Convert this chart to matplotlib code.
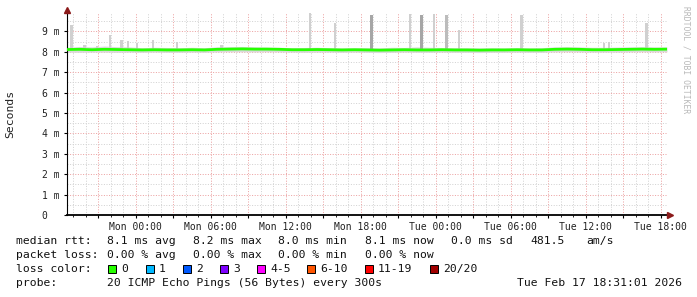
import matplotlib

matplotlib.use("Agg")
import matplotlib.dates as mdates  # noqa: E402
import matplotlib.pyplot as plt  # noqa: E402
import matplotlib.ticker as mticker  # noqa: E402
import pandas as pd  # noqa: E402
from matplotlib.patches import Rectangle  # noqa: E402

W, H = 697, 297
START = pd.Timestamp("2026-02-15 18:31:01")

# hourly median rtt (ms), hour 0 .. 48
median_ms = [
    8.11, 8.12, 8.10, 8.12, 8.11, 8.10,
    8.09, 8.10, 8.09, 8.09, 8.10, 8.09,
    8.12, 8.13, 8.14, 8.13, 8.13, 8.12,
    8.10, 8.10, 8.11, 8.10, 8.09, 8.10,
    8.09, 8.08, 8.09, 8.10, 8.09, 8.09, 8.10, 8.09,
    8.09, 8.08, 8.09, 8.09, 8.10, 8.09, 8.09,
    8.12, 8.13, 8.12,
    8.10, 8.10, 8.11,
    8.12, 8.13, 8.12, 8.13,
]
smoke_lo_ms = [
    7.98, 7.97, 7.98, 7.98, 7.97, 7.98,
    7.97, 7.98, 7.97, 7.97, 7.98, 7.97,
    7.99, 8.00, 8.00, 7.99, 8.00, 7.99,
    7.98, 7.97, 7.98, 7.98, 7.97, 7.98,
    7.97, 7.96, 7.97, 7.98, 7.97, 7.97, 7.98, 7.97,
    7.97, 7.96, 7.97, 7.97, 7.98, 7.97, 7.97,
    7.99, 8.00, 7.99,
    7.98, 7.98, 7.98,
    7.99, 8.00, 7.99, 8.00,
]
smoke_hi_ms = [
    8.22, 8.26, 8.24, 8.28, 8.25, 8.24,
    8.20, 8.22, 8.21, 8.20, 8.22, 8.20,
    8.24, 8.25, 8.26, 8.24, 8.23, 8.22,
    8.20, 8.21, 8.22, 8.20, 8.19, 8.20,
    8.20, 8.19, 8.22, 8.21, 8.24, 8.22, 8.21, 8.20,
    8.20, 8.19, 8.20, 8.19, 8.20, 8.19, 8.20,
    8.24, 8.25, 8.24,
    8.22, 8.22, 8.23,
    8.24, 8.25, 8.24, 8.23,
]

# isolated slow pings above the smoke
spike_hours = [0.38, 1.4, 2.4, 3.44, 4.38, 4.88, 5.6, 6.88, 8.8, 12.38, 19.44,
               21.44, 24.38, 27.44, 28.38, 29.36, 30.38, 31.36, 36.38, 42.96,
               43.36, 46.38]
spike_top_ms = [9.3, 8.35, 8.3, 8.8, 8.6, 8.55, 8.45, 8.6, 8.5, 8.35, 9.9,
                9.4, 9.8, 9.85, 9.8, 9.85, 9.8, 9.05, 9.8, 8.45,
                8.5, 9.4]
spike_pings = [1, 1, 1, 1, 1, 1, 1, 1, 1, 1, 1,
               1, 3, 1, 3, 1, 2, 1, 1, 1,
               1, 1]

rtt_stats = [8.1, 8.2, 8.0, 8.1]
rtt_sd = 0.0
rtt_amps = 481.5
loss_stats = [0.00, 0.00, 0.00, 0.00]
stat_names = ["avg", "max", "min", "now"]
loss_labels = ["0", "1", "2", "3", "4-5", "6-10", "11-19", "20/20"]
loss_colors = ["#26ff00", "#00b8ff", "#0059ff", "#7e00ff", "#ff00ff",
               "#ff5500", "#ff0000", "#a10000"]
probe_text = "20 ICMP Echo Pings (56 Bytes) every 300s"
stamp_text = "Tue Feb 17 18:31:01 2026"

MONO = "DejaVu Sans Mono"
plt.rcParams["font.family"] = MONO


def fpx(x, y):
    return x / W, 1 - y / H


hours = pd.date_range(START, periods=len(median_ms), freq="h")
spike_times = [START + pd.Timedelta(hours=h) for h in spike_hours]
shade = {1: "#d0d0d0", 2: "#bcbcbc", 3: "#a6a6a6"}

fig = plt.figure(figsize=(W / 100, H / 100), dpi=100, facecolor="white")
ax = fig.add_axes([67 / W, 82 / H, 600 / W, 202 / H])
ax.set_facecolor("white")

ax.fill_between(hours, smoke_lo_ms, smoke_hi_ms, color="#dadada", linewidth=0, zorder=2)
ax.bar(spike_times, [t - 8.1 for t in spike_top_ms], bottom=8.1, width=0.22 / 24,
       color=[shade[p] for p in spike_pings], linewidth=0, zorder=2)
ax.plot(hours, median_ms, color="#26ff00", linewidth=2.0, zorder=4)

ax.set_xlim(START, START + pd.Timedelta(hours=48))
ax.set_ylim(0, 9.9)

ax.xaxis.set_major_locator(mdates.HourLocator(byhour=range(0, 24, 3)))
ax.xaxis.set_minor_locator(mdates.HourLocator())


def xfmt(v, pos):
    t = mdates.num2date(v)
    return t.strftime("%a %H:%M") if t.hour % 6 == 0 else ""


ax.xaxis.set_major_formatter(mticker.FuncFormatter(xfmt))
ax.yaxis.set_major_locator(mticker.MultipleLocator(1))
ax.yaxis.set_minor_locator(mticker.MultipleLocator(0.5))
ax.yaxis.set_major_formatter(
    mticker.FuncFormatter(lambda v, p: f"{int(round(v))} m" if v > 0 else "0  "))

ax.grid(which="minor", color="#d2d2d2", linestyle=(0, (1, 1.6)), linewidth=0.72, zorder=1)
ax.grid(which="major", color="#eca2a2", linestyle=(0, (1, 1.6)), linewidth=0.72, zorder=1)
ax.set_axisbelow(True)

for side in ("top", "right"):
    ax.spines[side].set_visible(False)
ax.spines["bottom"].set_linewidth(1.3)
ax.spines["left"].set_linewidth(0.8)
ax.tick_params(axis="x", which="major", length=2.5, width=0.8, pad=2.5,
               labelsize=7, colors="black")
ax.tick_params(axis="x", which="minor", length=1.5, width=0.6)
ax.tick_params(axis="y", which="major", length=2, width=0.8, pad=3, labelsize=7)
ax.tick_params(axis="y", which="minor", length=0)
for lab in ax.get_xticklabels() + ax.get_yticklabels():
    lab.set_color("#222222")

# axis arrows
fig.add_artist(plt.Line2D([fpx(670, 0)[0]], [fpx(0, 215)[1]], marker=">",
                          markersize=4, color="#8b1a1a", transform=fig.transFigure))
fig.add_artist(plt.Line2D([fpx(67, 0)[0]], [fpx(0, 10)[1]], marker="^",
                          markersize=4, color="#8b1a1a", transform=fig.transFigure))

fig.text(*fpx(10, 114), "Seconds", rotation=90, ha="center", va="center",
         fontsize=8.2, color="#222222")
fig.text(*fpx(686, 60), "RRDTOOL / TOBI OETIKER", rotation=-90, ha="center",
         va="center", fontsize=5.8, color="#b8b8b8")

LEG = dict(fontsize=8.2, va="center", ha="left", color="#111111")
col_x = [107, 193, 278, 365]
fig.text(*fpx(16, 241), "median rtt:", **LEG)
for x, v, n in zip(col_x, rtt_stats, stat_names):
    fig.text(*fpx(x, 241), f"{v:.1f} ms {n}", **LEG)
fig.text(*fpx(451, 241), f"{rtt_sd:.1f} ms sd", **LEG)
fig.text(*fpx(530, 241), f"{rtt_amps:.1f}", **LEG)
fig.text(*fpx(586, 241), "am/s", **LEG)

fig.text(*fpx(16, 255), "packet loss:", **LEG)
for x, v, n in zip(col_x, loss_stats, stat_names):
    fig.text(*fpx(x, 255), f"{v:.2f} % {n}", **LEG)

fig.text(*fpx(16, 269), "loss color:", **LEG)
box_x = [108, 146, 183, 220, 257, 307, 365, 430]
for x, lab, c in zip(box_x, loss_labels, loss_colors):
    bx, by = fpx(x, 273)
    fig.add_artist(Rectangle((bx, by), 8 / W, 8 / H, transform=fig.transFigure,
                             facecolor=c, edgecolor="black", linewidth=0.7))
    fig.text(*fpx(x + 13, 269), lab, **LEG)

fig.text(*fpx(16, 283), "probe:", **LEG)
fig.text(*fpx(107, 283), probe_text, **LEG)
fig.text(*fpx(682, 283), stamp_text, fontsize=8.2, va="center", ha="right",
         color="#111111")

fig.savefig("out.png", dpi=100, facecolor="white")
